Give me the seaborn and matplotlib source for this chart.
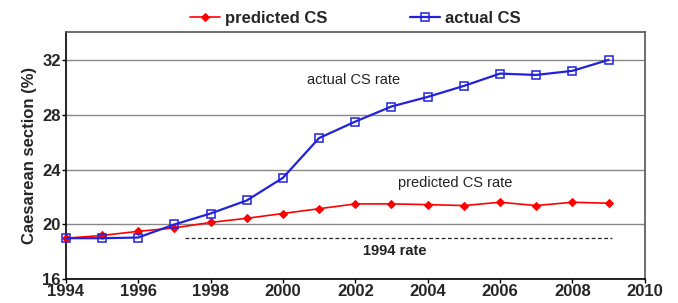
import matplotlib.pyplot as plt
import pandas as pd
import seaborn as sns

years = list(range(1994, 2010))
actual_cs = [19.0, 19.0, 19.05, 20.0, 20.8, 21.75, 23.4, 26.3,
             27.5, 28.6, 29.3, 30.1, 31.0, 30.9, 31.2, 32.0]
predicted_cs = [19.0, 19.2, 19.5, 19.75, 20.15, 20.45, 20.8, 21.15,
                21.5, 21.5, 21.45, 21.38, 21.62, 21.38, 21.62, 21.55]
rate_1994 = 19.0
rate_1994_span = [1997.3, 2009.1]

sns.set_theme(style='white')
plt.rcParams['font.family'] = ['Liberation Sans', 'DejaVu Sans']

df = pd.DataFrame({'Year': years, 'actual': actual_cs, 'predicted': predicted_cs})

fig, ax = plt.subplots(figsize=(6.78, 3.03), dpi=100)
fig.subplots_adjust(left=0.097, right=0.951, top=0.893, bottom=0.078)

ax.plot(rate_1994_span, [rate_1994, rate_1994], ls=(0, (3, 2)), color='#222222',
        lw=0.9, zorder=2)

sns.lineplot(data=df, x='Year', y='predicted', ax=ax, color='red', lw=1.2,
             marker='D', markersize=4.5, markeredgecolor='red',
             label='predicted CS', zorder=3, clip_on=False)
sns.lineplot(data=df, x='Year', y='actual', ax=ax, color='#2222dd', lw=1.6,
             marker='s', markersize=5.5, markerfacecolor='none',
             markeredgecolor='#2222dd', markeredgewidth=1.1,
             label='actual CS', zorder=4, clip_on=False)

ax.set_xlim(1994, 2010)
ax.set_ylim(16, 34)
ax.set_xticks(range(1994, 2011, 2))
ax.set_yticks([16, 20, 24, 28, 32])
ax.yaxis.grid(True, color='#888888', lw=1)
ax.xaxis.grid(False)
ax.set_axisbelow(True)

for lab in ax.get_xticklabels() + ax.get_yticklabels():
    lab.set_fontweight('bold')
ax.tick_params(axis='both', labelsize=12, length=3, width=1, color='black',
               direction='out', pad=0.5, bottom=True, left=True)

ax.spines['left'].set_color('black')
ax.spines['bottom'].set_color('black')
ax.spines['top'].set_color('#555555')
ax.spines['right'].set_color('#555555')
for s in ax.spines.values():
    s.set_linewidth(1.2)

ax.set_xlabel('')
ax.set_ylabel('Caesarean section (%)', fontsize=12, fontweight='bold', labelpad=4)

ax.text(2001.95, 30.5, 'actual CS rate', ha='center', va='center', fontsize=10.5,
        color='#222222')
ax.text(2004.75, 23.0, 'predicted CS rate', ha='center', va='center',
        fontsize=10.5, color='#222222')
ax.text(2003.1, 18.1, '1994 rate', ha='center', va='center', fontsize=10.5,
        fontweight='bold', color='#222222')

ax.legend(loc='lower center', bbox_to_anchor=(0.5, 1.0), ncol=2, frameon=False,
          prop={'weight': 'bold', 'size': 12}, handlelength=1.8,
          handletextpad=0.3, columnspacing=5, borderaxespad=0)

plt.savefig('out.png', dpi=100)
